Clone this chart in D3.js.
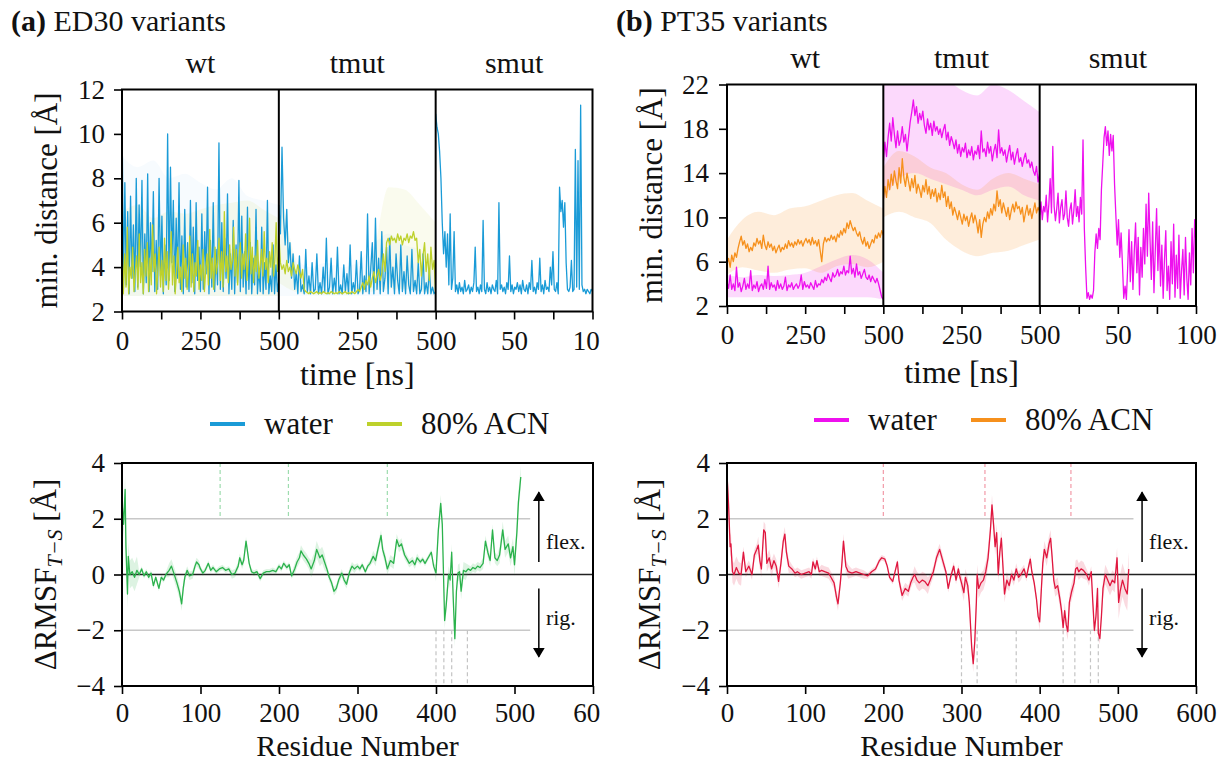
<!DOCTYPE html>
<html><head><meta charset="utf-8">
<script src="https://cdn.jsdelivr.net/npm/d3@7"></script>
<style>body{margin:0;background:#fff}svg{display:block}</style>
</head><body><svg id="c" width="1222" height="762" font-family="Liberation Serif"></svg>
<script>
// ================= DATA =================
const segNames = ["wt", "tmut", "smut"];
const segLength = [500, 500, 100];
const segTicks = [[0,125,250,375,500],[125,250,375,500],[25,50,75,100]];
const segTickLabels = [[0,250,500],[250,500],[50,100]];
const ed30YTicks = [2,4,6,8,10,12];
const pt35YTicks = [2,6,10,14,18,22];
const rmsfXTicks = [0,100,200,300,400,500,600];
const rmsfYTicks = [-4,-2,0,2,4];
const legendLabels = ["water", "80% ACN"];

// ED30 min. distance (Å)
const ed30WtWater = [11.3,3.0,7.8,3.2,6.5,2.8,7.2,3.5,5.9,2.9,8.0,3.1,6.8,4.0,7.9,2.8,5.5,3.3,8.2,2.9,6.0,3.8,7.4,2.9,5.2,3.0,8.0,3.6,6.3,2.8,5.0,3.2,10.0,3.4,8.5,4.2,7.0,2.9,6.2,3.5,7.8,3.0,5.4,2.8,6.6,3.1,5.1,2.9,7.0,3.3,5.8,2.8,6.9,3.4,4.9,2.9,6.4,3.0,5.6,3.7,7.6,2.8,5.2,3.1,6.9,2.9,4.8,3.2,9.6,3.0,6.0,2.9,5.3,3.5,7.3,2.8,4.6,3.0,6.1,2.8,5.0,3.3,7.9,2.9,6.3,3.1,4.7,2.8,6.7,3.0,5.1,2.8,4.4,3.2,6.6,2.8,3.9,2.9,5.8,2.8,4.2,3.0,7.0,2.8,3.6,2.9,5.0,2.8,4.1,2.9,3.4];
const ed30WtAcn = [5.2,2.8,4.6,3.1,5.8,2.8,4.0,3.5,4.9,2.9,3.8,4.5,3.0,5.5,3.3,4.2,2.8,4.8,3.6,5.1,2.9,4.4,3.2,5.9,3.8,4.6,2.8,3.9,4.9,3.1,4.3,2.9,5.3,3.4,4.7,3.0,4.1,5.6,3.2,4.5,2.8,3.7,4.9,3.3,4.0,2.9,5.0,3.5,4.4,3.0,3.8,5.4,3.1,4.6,2.9,4.2,3.6,5.2,3.0,4.1,3.4,4.8,2.9,3.9,4.6,3.2,5.7,3.5,4.4,3.0,4.9,3.7,4.2,5.3,3.4,4.7,3.1,6.5,3.8,4.5,3.3,5.0,3.9,4.3,5.8,3.6,4.8,3.2,4.4,5.1,3.5,4.6,3.9,5.5,3.4,4.2,6.2,3.7,4.9,3.3,4.5,3.8,5.2,3.5,4.1,4.8,3.6,5.6,3.9,4.4,3.3,4.7,4.0,5.1,3.6,4.3,6.0,3.8,4.6];
const ed30TmutWater = [6.8,5.5,9.4,6.2,5.0,6.6,4.2,5.1,3.5,4.6,3.0,3.8,2.8,4.5,2.9,3.2,2.8,4.8,2.9,3.6,2.8,4.2,2.9,3.0,4.6,2.8,3.3,2.8,4.0,2.9,5.3,2.8,3.1,4.4,2.8,3.5,2.9,4.9,2.8,3.2,2.8,4.1,2.9,3.7,2.8,5.0,2.8,3.3,2.9,4.3,2.8,3.0,4.7,2.8,3.6,2.9,6.4,2.8,3.9,5.1,2.8,6.2,3.0,4.4,2.8,5.6,2.9,3.5,4.9,2.8,5.3,3.1,4.0,2.8,4.6,3.4,2.8,5.0,2.9,3.8,2.8,4.5,3.2,2.8,4.8,2.9,3.4,2.8,4.2,2.8,3.0,4.6,2.8,3.3,2.8,3.9,2.8,3.1,2.8,2.9];
const ed30TmutAcn = [5.5,4.2,3.9,4.1,3.7,4.3,3.8,4.0,3.6,4.2,3.9,3.7,4.1,3.8,3.5,3.9,3.0,2.9,2.85,2.8,2.9,2.85,2.8,2.85,2.9,2.8,2.85,2.8,2.9,2.85,2.8,2.85,2.8,2.9,2.85,2.8,2.85,2.8,2.9,2.85,2.8,2.85,2.9,2.8,2.85,2.8,2.9,2.85,2.8,2.9,3.0,2.9,3.1,3.3,3.0,3.4,3.2,3.6,3.1,3.5,3.8,3.3,3.6,3.9,3.4,3.7,4.6,3.8,5.1,5.3,5.0,5.4,5.2,5.3,5.1,5.5,5.2,5.4,5.0,5.3,5.2,5.5,5.1,5.4,5.3,5.6,5.2,5.3,4.2,4.8,3.6,4.5,5.1,3.8,4.6,3.4,4.9,3.9,4.3,2.8];
const ed30SmutWater = [10.9,10.3,10.0,9.2,8.0,6.0,4.6,5.6,4.0,5.5,3.2,6.4,3.0,3.5,5.6,2.9,3.2,2.8,3.3,2.9,3.1,2.8,3.4,2.9,3.0,3.2,2.8,3.1,2.9,3.3,4.9,2.9,3.1,2.8,3.2,2.9,6.1,3.0,2.8,3.3,2.9,3.1,2.8,3.2,3.0,2.9,3.4,2.8,6.9,3.0,3.2,2.9,3.1,2.8,3.3,3.0,4.5,2.9,3.2,2.8,3.1,3.0,3.3,2.9,3.2,2.8,3.4,3.0,2.9,3.2,2.8,3.3,3.0,4.3,2.9,3.1,2.8,3.3,3.0,4.4,2.9,3.2,2.8,3.4,3.0,3.1,2.9,4.0,3.2,4.7,3.0,2.9,3.3,2.8,7.6,6.5,7.0,5.8,6.9,4.2,3.0,2.9,3.1,4.3,2.9,3.0,9.3,3.1,8.8,3.0,11.3,3.2,2.9,3.0,2.8,3.0,2.9,2.8,3.0,2.9];
// ED30 shaded ranges (every 50 ns)
const ed30WtWaterLo = [2.7,2.7,2.7,2.7,2.7,2.7,2.7,2.7,2.7,2.7,2.7];
const ed30WtWaterHi = [9.0,8.5,8.8,8.0,8.2,7.8,7.5,8.0,7.2,7.0,6.8];
const ed30WtAcnLo = [2.7,2.7,2.7,2.7,2.7,2.7,2.7,2.7,2.7,2.7,2.7];
const ed30WtAcnHi = [6.5,6.8,6.2,6.5,6.4,6.6,6.8,6.9,7.0,6.6,6.2];
const ed30TmutWaterLo = [2.7,2.7,2.7,2.7,2.7,2.7,2.7,2.7,2.7,2.7,2.7];
const ed30TmutWaterHi = [8.5,4.5,4.0,4.2,4.0,4.2,5.0,5.5,5.0,4.8,4.0];
const ed30TmutAcnLo = [3.3,2.9,2.75,2.75,2.75,2.8,2.9,3.0,3.0,2.9,2.8];
const ed30TmutAcnHi = [8.0,4.5,3.0,3.0,3.0,3.2,4.5,7.6,7.5,6.8,6.0];

// PT35 min. distance (Å)
const pt35WtWater = [4.2,3.6,4.8,3.5,4.0,3.4,5.5,3.7,4.1,3.3,3.8,4.5,3.5,4.0,3.6,5.2,3.4,3.9,3.6,4.2,3.3,3.8,4.0,3.5,4.4,3.6,5.6,3.5,4.1,3.7,3.9,3.4,4.3,3.6,4.0,3.5,3.8,4.6,3.4,3.9,3.7,4.1,3.5,3.8,4.0,3.6,3.9,4.8,3.5,4.2,3.7,3.9,3.6,4.1,3.8,3.5,4.3,3.7,4.0,3.9,4.4,4.1,4.6,4.3,4.9,4.5,4.2,5.0,4.6,4.8,5.3,4.7,5.1,4.9,5.6,4.8,5.2,5.0,6.5,4.9,5.4,4.6,5.8,4.8,5.1,4.5,4.9,5.3,4.6,4.4,4.8,4.2,4.7,4.4,4.1,4.5,4.0,3.4,2.8,2.6];
const pt35WtAcn = [5.8,6.3,5.5,6.6,6.0,6.8,6.4,7.2,7.8,8.3,7.5,7.9,7.2,7.6,6.9,7.3,7.0,7.7,7.4,8.1,7.6,7.9,7.2,8.4,7.5,7.1,7.8,7.3,7.6,7.0,7.4,6.8,7.2,7.5,6.9,7.3,7.1,7.6,7.2,7.9,7.4,7.7,7.3,7.8,7.5,8.0,7.6,7.9,7.4,7.8,8.1,7.7,8.0,7.5,8.2,7.6,7.9,7.4,8.0,7.0,6.0,7.6,8.2,7.8,8.1,7.9,8.4,8.0,8.3,7.8,8.5,8.2,8.8,8.4,9.0,8.6,9.5,9.0,9.7,9.2,8.8,9.1,8.6,8.3,8.7,8.0,7.6,8.2,7.4,7.8,7.2,7.6,8.0,7.7,8.4,8.1,8.6,8.2,8.8,8.4];
const pt35TmutWater = [15.0,16.8,15.5,17.2,18.5,16.9,19.0,17.5,16.3,17.8,16.5,17.0,18.2,16.8,17.5,16.0,17.3,18.6,19.5,20.6,19.2,20.0,18.5,19.4,18.8,19.6,18.3,17.6,18.9,17.9,18.5,17.4,18.7,17.8,18.2,17.5,18.0,17.2,17.9,18.4,17.0,17.7,16.5,17.3,16.8,16.2,17.0,15.8,16.6,15.5,16.3,15.9,16.7,15.4,16.1,15.6,16.4,15.2,16.0,15.7,16.5,15.3,17.8,15.9,16.2,15.5,16.8,15.8,16.4,15.1,16.0,16.6,15.4,17.9,15.8,16.3,15.6,16.1,15.0,15.8,16.5,15.2,15.9,14.8,15.6,16.2,15.0,15.4,14.6,15.3,15.8,14.9,15.2,14.5,15.0,14.2,13.8,14.6,13.2,14.0];
const pt35TmutAcn = [11.6,12.8,11.8,13.4,12.5,13.9,12.9,14.2,13.3,12.6,14.5,13.1,15.3,13.6,12.8,14.0,13.2,12.4,13.5,12.7,13.8,12.2,13.0,12.5,11.8,12.9,12.3,13.4,12.1,12.8,11.7,12.5,11.9,12.6,11.4,12.2,11.6,12.9,11.8,12.3,11.0,11.9,10.8,11.4,10.2,10.9,10.4,9.8,10.6,10.0,9.4,10.3,9.7,10.1,9.2,9.9,10.4,9.5,10.2,9.6,8.6,9.8,8.2,9.4,10.0,9.6,10.5,9.9,10.8,10.2,11.2,10.6,12.4,11.0,11.6,10.4,11.3,10.7,10.1,10.9,9.8,10.6,11.2,10.5,11.4,10.8,11.0,10.3,10.9,9.6,10.4,11.1,10.2,10.8,9.9,10.6,11.3,10.4,10.9,10.5];
const pt35SmutWater = [10.2,11.4,9.8,11.0,10.5,12.0,9.6,11.2,13.5,10.4,16.4,11.0,9.7,10.8,12.2,9.5,10.9,11.6,9.8,10.3,12.4,10.0,9.2,10.7,11.3,9.4,10.6,12.5,10.1,11.0,9.6,11.8,10.3,17.0,9.0,5.5,2.7,3.2,2.6,3.0,2.7,3.4,6.8,8.5,7.2,9.0,8.0,12.5,14.8,17.2,18.2,16.5,17.8,15.6,17.5,16.0,17.4,13.0,10.2,7.5,9.8,6.4,8.6,5.8,2.7,3.8,2.6,5.5,8.9,4.2,7.8,3.5,6.9,9.5,5.0,8.2,3.0,7.3,4.6,9.0,5.8,11.2,6.5,12.2,8.0,4.4,9.6,3.2,7.0,10.8,5.2,9.2,3.8,7.5,2.7,6.2,8.8,3.4,5.6,2.6,7.8,4.0,9.4,2.8,6.6,3.6,8.4,2.7,5.2,7.1,3.0,8.2,4.5,2.6,6.8,3.9,9.0,5.0,9.8,7.5];
const pt35WtWaterLo = [2.8,2.8,2.8,2.8,2.8,2.8,2.8,2.8,2.8,2.8,2.6];
const pt35WtWaterHi = [4.8,4.6,4.8,4.7,4.8,5.0,5.6,6.2,6.6,6.2,5.0];
const pt35WtAcnLo = [4.8,5.5,5.2,5.0,5.3,5.4,5.0,5.6,5.8,5.5,6.0];
const pt35WtAcnHi = [8.0,9.8,10.5,10.2,10.8,11.0,11.5,12.0,12.2,11.5,10.8];
const pt35TmutWaterLo = [11.5,13.5,14.0,13.5,13.0,12.5,12.0,12.5,12.8,12.0,11.5];
const pt35TmutWaterHi = [23,23,23,23,22.5,21.5,21.0,22.0,21.5,20.5,19.5];
const pt35TmutAcnLo = [10.0,10.5,10.0,9.5,8.0,7.0,6.5,6.8,7.0,7.5,8.0];
const pt35TmutAcnHi = [14.5,16.0,15.5,14.5,14.0,13.0,12.5,13.5,14.0,13.5,13.0];

// ΔRMSF_{T-S} [residue, Å]
const ed30Rmsf = [[0,2.6],[2,1.8],[4,3.05],[5,1.0],[7,-0.7],[8,0.65],[10,0.0],[13,0.1],[16,-0.1],[19,0.15],[22,0.0],[25,0.2],[28,-0.05],[31,0.1],[34,-0.1],[37,0.05],[40,-0.4],[43,-0.1],[47,-0.5],[50,-0.1],[53,-0.2],[56,0.0],[60,0.15],[63,0.3],[66,0.05],[70,-0.3],[73,-0.6],[76,-1.05],[78,-0.5],[80,-0.1],[83,0.15],[86,-0.05],[90,0.0],[93,0.3],[95,0.45],[98,0.35],[100,0.2],[103,0.05],[106,0.15],[110,0.4],[113,0.15],[116,0.25],[120,0.1],[124,0.2],[128,0.25],[132,0.15],[136,0.2],[140,0.0],[144,0.05],[148,0.3],[150,0.6],[153,0.35],[155,0.5],[158,1.2],[160,0.8],[162,0.4],[165,0.1],[168,0.05],[172,0.1],[176,-0.15],[180,0.05],[184,0.1],[188,0.1],[192,0.15],[196,0.1],[200,0.3],[203,0.2],[206,0.4],[210,0.25],[213,0.35],[216,-0.05],[220,0.2],[223,0.45],[226,0.6],[228,0.85],[231,0.7],[235,0.55],[238,0.4],[241,0.2],[245,0.5],[248,0.9],[250,0.75],[252,0.6],[255,0.7],[258,0.45],[261,0.2],[264,-0.1],[267,-0.3],[270,-0.6],[273,-0.5],[276,-0.2],[280,0.05],[283,-0.2],[286,-0.35],[290,0.1],[293,0.3],[296,0.2],[300,0.3],[303,0.2],[306,0.35],[310,0.1],[313,0.3],[316,0.4],[320,0.65],[323,0.5],[326,0.9],[330,1.4],[332,0.9],[335,0.6],[338,0.2],[342,0.5],[346,0.4],[350,1.25],[353,1.0],[356,1.1],[360,0.7],[363,0.55],[366,0.4],[370,0.5],[373,0.35],[376,0.6],[380,0.45],[383,0.55],[386,0.4],[390,0.6],[394,0.8],[397,0.3],[400,0.05],[403,1.6],[406,2.55],[408,1.8],[410,-0.5],[411,-1.65],[413,-1.1],[416,0.0],[418,-0.2],[420,0.8],[422,-0.9],[424,-2.3],[426,-0.6],[428,0.05],[430,0.1],[432,-0.6],[435,0.15],[438,0.1],[441,0.2],[444,0.15],[447,0.25],[450,0.2],[453,0.3],[456,0.25],[460,0.4],[463,1.2],[466,0.8],[469,0.5],[472,1.6],[475,0.6],[478,0.5],[481,0.7],[485,1.6],[488,0.9],[492,1.1],[495,0.6],[498,1.0],[500,0.35],[503,1.5],[505,2.6],[508,3.5]];
const pt35Rmsf = [[0,3.6],[2,2.5],[4,1.0],[5,1.1],[7,0.1],[9,0.0],[12,0.25],[15,0.05],[18,0.0],[21,0.8],[24,0.1],[28,0.3],[32,0.0],[35,0.7],[38,0.9],[40,1.05],[42,0.5],[44,0.2],[47,1.6],[49,1.5],[51,0.4],[54,0.6],[57,0.2],[60,0.5],[63,0.3],[66,-0.25],[69,0.4],[72,1.2],[74,1.45],[76,0.8],[79,0.3],[83,0.2],[87,0.05],[90,0.1],[95,0.0],[100,0.05],[105,0.1],[108,0.0],[110,0.45],[113,0.2],[115,0.5],[118,0.1],[121,0.15],[125,0.1],[130,0.05],[133,-0.1],[137,-0.3],[140,-0.8],[142,-1.05],[145,-0.3],[147,0.4],[149,1.2],[152,0.3],[155,0.1],[160,0.05],[165,0.1],[170,0.05],[175,0.0],[180,-0.05],[185,0.1],[190,0.2],[195,0.5],[198,0.6],[202,0.55],[205,0.3],[208,-0.1],[212,-0.25],[215,0.1],[218,0.45],[220,-0.2],[224,-0.75],[228,-0.5],[232,-0.6],[235,-0.3],[238,-0.1],[240,0.0],[243,-0.2],[246,-0.3],[250,-0.2],[253,-0.25],[257,-0.4],[260,-0.2],[264,0.1],[268,0.6],[272,0.9],[276,0.5],[280,0.1],[283,-0.5],[286,-0.1],[290,0.3],[293,-0.2],[296,0.2],[298,-0.1],[300,-0.3],[303,-0.65],[305,-0.1],[308,-0.4],[310,-1.0],[313,-2.6],[315,-3.2],[317,-2.4],[319,-1.0],[320,0.0],[322,-0.5],[325,-0.3],[328,-0.2],[331,0.1],[334,0.6],[337,1.6],[339,2.5],[341,1.8],[343,1.0],[345,1.5],[347,0.0],[349,0.8],[351,1.3],[353,0.3],[355,-0.7],[358,-0.2],[361,-0.4],[364,0.0],[367,-0.2],[370,0.2],[373,-0.1],[376,0.0],[380,0.2],[383,-0.1],[386,0.3],[388,0.55],[390,0.1],[393,-0.3],[396,-0.9],[398,-1.5],[400,-1.7],[402,-0.6],[404,0.4],[406,0.9],[409,0.6],[412,1.1],[414,1.3],[416,0.6],[418,-0.2],[420,-0.5],[423,-0.4],[426,-0.9],[428,-1.3],[430,-1.9],[432,-1.3],[434,-1.8],[436,-2.05],[438,-1.0],[441,-0.6],[444,-0.3],[446,0.2],[448,0.25],[450,0.1],[453,0.2],[456,0.15],[460,0.0],[463,-0.2],[466,0.1],[468,-1.0],[470,-2.0],[472,-1.5],[474,-0.5],[475,-2.1],[477,-2.3],[479,-1.5],[481,-0.5],[484,0.0],[487,-0.2],[490,-0.4],[493,-0.2],[496,-0.3],[499,0.6],[501,-1.0],[503,-0.6],[506,-0.2],[509,-0.5],[512,-0.7],[514,0.2]];
// spread of the shaded band per 20-residue bin
const ed30RmsfSpread = [0.5,0.1,0.1,0.25,0.15,0.1,0.1,0.15,0.1,0.1,0.1,0.2,0.3,0.15,0.15,0.1,0.2,0.2,0.15,0.1,0.3,0.3,0.15,0.2,0.3,0.4,0.4];
const pt35RmsfSpread = [0.4,0.2,0.3,0.25,0.15,0.15,0.2,0.25,0.15,0.1,0.1,0.2,0.3,0.2,0.15,0.3,0.35,0.3,0.2,0.15,0.3,0.3,0.3,0.2,0.35,0.6,0.6];
const ed30UpMarks = [125, 212, 338];
const ed30DownMarks = [400, 410, 420, 440];
const pt35UpMarks = [200, 330, 440];
const pt35DownMarks = [300, 320, 370, 430, 445, 465, 475];

// ================= DRAWING =================
const svg = d3.select("#c");
const defs = svg.append("defs");
defs.append("marker").attr("id","arrow").attr("viewBox","0 0 10 16").attr("refX",9).attr("refY",8)
  .attr("markerWidth",10).attr("markerHeight",16).attr("markerUnits","userSpaceOnUse").attr("orient","auto")
  .append("path").attr("d","M0,2 L10,8 L0,14 Z").attr("fill","#000");
defs.append("clipPath").attr("id","leftFig").append("rect").attr("x",0).attr("y",0).attr("width",600).attr("height",762);

function txt(g, x, y, s, size, anchor) {
  return g.append("text").attr("x", x).attr("y", y).attr("font-size", size)
    .attr("fill", "#111").attr("text-anchor", anchor || "start").text(s);
}
function styleAxis(sel, fs) {
  sel.attr("font-family", null);
  sel.select(".domain").remove();
  sel.selectAll(".tick line").attr("stroke", "#000").attr("stroke-width", 1.6);
  sel.selectAll(".tick text").attr("font-size", fs).attr("fill", "#111");
}

function timePanel(g, cfg) {
  const w = (cfg.x1 - cfg.x0) / 3;
  const y = d3.scaleLinear().domain([cfg.yTicks[0], cfg.yTicks[cfg.yTicks.length-1]]).range([cfg.y1, cfg.y0]);
  segLength.forEach((T, s) => {
    const x = d3.scaleLinear().domain([0, T]).range([cfg.x0 + s*w, cfg.x0 + (s+1)*w]);
    const cid = cfg.id + "seg" + s;
    defs.append("clipPath").attr("id", cid).append("rect")
      .attr("x", cfg.x0 + s*w).attr("y", cfg.y0).attr("width", w).attr("height", cfg.y1 - cfg.y0);
    const sg = g.append("g").attr("clip-path", `url(#${cid})`);
    cfg.series.forEach(ser => {
      const b = ser.bands[s];
      if (!b) return;
      const n = b[0].length;
      const area = d3.area().curve(d3.curveMonotoneX)
        .x((d, i) => x(i * T / (n - 1))).y0((d, i) => y(b[0][i])).y1(d => y(d));
      sg.append("path").datum(b[1]).attr("d", area).attr("fill", ser.color).attr("opacity", ser.bandOpacity);
    });
    cfg.series.forEach(ser => {
      const v = ser.segments[s];
      if (!v) return;
      const n = v.length;
      const line = d3.line().x((d, i) => x(i * T / (n - 1))).y(d => y(d));
      sg.append("path").datum(v).attr("d", line).attr("fill", "none").attr("stroke", ser.color)
        .attr("stroke-width", 1.3).attr("stroke-linejoin", "round");
    });
    const ax = d3.axisBottom(x).tickValues(segTicks[s]).tickSize(8).tickPadding(cfg.xPad)
      .tickFormat(v => segTickLabels[s].includes(v) ? v : "");
    g.append("g").attr("transform", `translate(0,${cfg.y1})`).call(ax).call(a => styleAxis(a, 27));
    txt(g, x(T/2), cfg.segLabelY, segNames[s], 30, "middle");
  });
  const ay = d3.axisLeft(y).tickValues(cfg.yTicks).tickSize(8).tickPadding(cfg.yPad);
  g.append("g").attr("transform", `translate(${cfg.x0},0)`).call(ay).call(a => styleAxis(a, 27));
  g.append("rect").attr("x", cfg.x0).attr("y", cfg.y0).attr("width", cfg.x1 - cfg.x0).attr("height", cfg.y1 - cfg.y0)
    .attr("fill", "none").attr("stroke", "#000").attr("stroke-width", 2);
  [1, 2].forEach(k => g.append("line").attr("x1", cfg.x0 + k*w).attr("x2", cfg.x0 + k*w)
    .attr("y1", cfg.y0).attr("y2", cfg.y1).attr("stroke", "#000").attr("stroke-width", 2));
  g.append("text").attr("transform", `translate(${cfg.ylabX},${(cfg.y0+cfg.y1)/2}) rotate(-90)`)
    .attr("font-size", 31).attr("fill", "#111").attr("text-anchor", "middle")
    .text("min. distance [Å]");
  txt(g, (cfg.x0 + cfg.x1)/2, cfg.xlabY, "time [ns]", 32, "middle");
  const L = cfg.legend;
  cfg.series.forEach((ser, i) => {
    const lx = L.x[i];
    g.append("line").attr("x1", lx).attr("x2", lx + 35).attr("y1", L.y).attr("y2", L.y)
      .attr("stroke", ser.color).attr("stroke-width", 4);
    txt(g, lx + 54, L.y + 10, legendLabels[i], 31);
  });
}

function rmsfPanel(g, cfg) {
  const x = d3.scaleLinear().domain([0, 600]).range([cfg.x0, cfg.x1]);
  const y = d3.scaleLinear().domain([-4, 4]).range([cfg.y1, cfg.y0]);
  [2, -2].forEach(v => g.append("line").attr("x1", x(0)).attr("x2", x(520)).attr("y1", y(v)).attr("y2", y(v))
    .attr("stroke", "#c8c8c8").attr("stroke-width", 1.3));
  cfg.up.forEach(r => g.append("line").attr("x1", x(r)).attr("x2", x(r)).attr("y1", y(4)).attr("y2", y(2))
    .attr("stroke", cfg.dash).attr("stroke-width", 1.2).attr("stroke-dasharray", "4,3"));
  cfg.down.forEach(r => g.append("line").attr("x1", x(r)).attr("x2", x(r)).attr("y1", y(-2)).attr("y2", y(-4))
    .attr("stroke", "#c4c4c4").attr("stroke-width", 1.2).attr("stroke-dasharray", "4,3"));
  g.append("line").attr("x1", cfg.x0).attr("x2", cfg.x1).attr("y1", y(0)).attr("y2", y(0))
    .attr("stroke", "#222").attr("stroke-width", 1.5);
  const sp = r => cfg.spread[Math.min(cfg.spread.length - 1, Math.floor(r / 20))];
  const area = d3.area().x(d => x(d[0])).y0(d => y(d[1] - sp(d[0]))).y1(d => y(d[1] + sp(d[0])));
  g.append("path").datum(cfg.data).attr("d", area).attr("fill", cfg.color).attr("opacity", 0.16);
  const line = d3.line().x(d => x(d[0])).y(d => y(d[1]));
  g.append("path").datum(cfg.data).attr("d", line).attr("fill", "none").attr("stroke", cfg.color)
    .attr("stroke-width", 1.3).attr("stroke-linejoin", "round");
  g.append("g").attr("transform", `translate(0,${cfg.y1})`)
    .call(d3.axisBottom(x).tickValues(rmsfXTicks).tickSize(8).tickPadding(9)).call(a => styleAxis(a, 27));
  g.append("g").attr("transform", `translate(${cfg.x0},0)`)
    .call(d3.axisLeft(y).tickValues(rmsfYTicks).tickSize(8).tickPadding(9)).call(a => styleAxis(a, 27));
  g.append("rect").attr("x", cfg.x0).attr("y", cfg.y0).attr("width", cfg.x1 - cfg.x0).attr("height", cfg.y1 - cfg.y0)
    .attr("fill", "none").attr("stroke", "#000").attr("stroke-width", 2);
  g.append("line").attr("x1", x(531)).attr("x2", x(531)).attr("y1", y(0.45)).attr("y2", y(2.95))
    .attr("stroke", "#000").attr("stroke-width", 1.5).attr("marker-end", "url(#arrow)");
  g.append("line").attr("x1", x(531)).attr("x2", x(531)).attr("y1", y(-0.5)).attr("y2", y(-2.95))
    .attr("stroke", "#000").attr("stroke-width", 1.5).attr("marker-end", "url(#arrow)");
  txt(g, x(540), y(1.17) + 7, "flex.", 22);
  txt(g, x(540), y(-1.65) + 5, "rig.", 22);
  const t = g.append("text").attr("transform", `translate(${cfg.ylabX},${(cfg.y0+cfg.y1)/2}) rotate(-90)`)
    .attr("font-size", 31).attr("fill", "#111").attr("text-anchor", "middle");
  t.append("tspan").text("ΔRMSF");
  t.append("tspan").attr("font-size", 22).attr("font-style", "italic").attr("dy", 6).text("T−S");
  t.append("tspan").attr("dy", -6).text(" [Å]");
  txt(g, (cfg.x0 + cfg.x1)/2, 756, "Residue Number", 30, "middle");
}

// ---------- left figure (a) ----------
const ga = svg.append("g").attr("clip-path", "url(#leftFig)");
const ta = ga.append("text").attr("x", 11).attr("y", 31).attr("font-size", 30).attr("fill", "#111");
ta.append("tspan").attr("font-weight", "bold").text("(a)");
ta.append("tspan").text(" ED30 variants");
timePanel(ga, {
  id: "a", x0: 122, x1: 592.5, y0: 89.5, y1: 311.5, yTicks: ed30YTicks, xPad: 11, yPad: 9,
  segLabelY: 73, ylabX: 57, xlabY: 385, legend: {x: [210, 367], y: 424},
  series: [
    {color: "#1a9bd7", bandOpacity: 0.035, segments: [ed30WtWater, ed30TmutWater, ed30SmutWater],
     bands: [[ed30WtWaterLo, ed30WtWaterHi], [ed30TmutWaterLo, ed30TmutWaterHi], null]},
    {color: "#bdd12b", bandOpacity: 0.08, segments: [ed30WtAcn, ed30TmutAcn, null],
     bands: [[ed30WtAcnLo, ed30WtAcnHi], [ed30TmutAcnLo, ed30TmutAcnHi], null]}
  ]
});
rmsfPanel(ga, {x0: 122, x1: 593, y0: 463, y1: 686, data: ed30Rmsf, spread: ed30RmsfSpread,
  color: "#2bb24c", dash: "#9ddcae", up: ed30UpMarks, down: ed30DownMarks, ylabX: 56});

// ---------- right figure (b) ----------
const gb = svg.append("g");
const tb = gb.append("text").attr("x", 616).attr("y", 31).attr("font-size", 30).attr("fill", "#111");
tb.append("tspan").attr("font-weight", "bold").text("(b)");
tb.append("tspan").text(" PT35 variants");
timePanel(gb, {
  id: "b", x0: 727, x1: 1196, y0: 84.5, y1: 306, yTicks: pt35YTicks, xPad: 10.5, yPad: 10,
  segLabelY: 68, ylabX: 662, xlabY: 383, legend: {x: [814, 971], y: 420},
  series: [
    {color: "#ee10ee", bandOpacity: 0.16, segments: [pt35WtWater, pt35TmutWater, pt35SmutWater],
     bands: [[pt35WtWaterLo, pt35WtWaterHi], [pt35TmutWaterLo, pt35TmutWaterHi], null]},
    {color: "#f6901c", bandOpacity: 0.16, segments: [pt35WtAcn, pt35TmutAcn, null],
     bands: [[pt35WtAcnLo, pt35WtAcnHi], [pt35TmutAcnLo, pt35TmutAcnHi], null]}
  ]
});
rmsfPanel(gb, {x0: 727, x1: 1196, y0: 463, y1: 686, data: pt35Rmsf, spread: pt35RmsfSpread,
  color: "#e0173f", dash: "#f29aa8", up: pt35UpMarks, down: pt35DownMarks, ylabX: 660});

svg.selectAll("text").style("font-family", '"Liberation Serif"');
</script></body></html>
